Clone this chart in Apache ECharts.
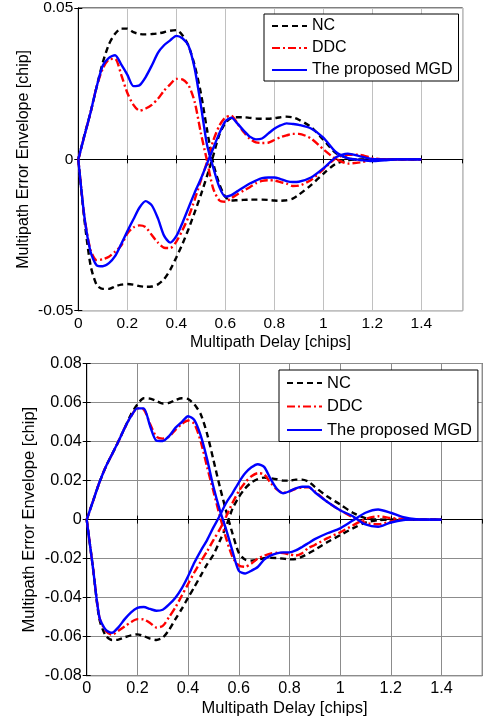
<!DOCTYPE html>
<html><head><meta charset="utf-8">
<script src="https://cdn.jsdelivr.net/npm/echarts@6/dist/echarts.min.js"></script>
<style>html,body{margin:0;padding:0;background:#fff}#c{width:492px;height:722px}</style>
</head><body><div id="c"></div>
<script>
// Multipath delay grid (chips), shared by both panels
const delays = [0,0.025,0.05,0.075,0.1,0.125,0.15,0.175,0.2,0.225,0.25,0.275,0.3,0.325,0.35,0.375,0.4,0.425,0.45,0.475,0.5,0.525,0.55,0.575,0.6,0.625,0.65,0.675,0.7,0.725,0.75,0.775,0.8,0.825,0.85,0.875,0.9,0.95,1.0,1.05,1.1,1.15,1.2,1.25,1.3,1.4];
const seriesNames = ['NC','DDC','The proposed MGD'];
const xTickLabels = ['0','0.2','0.4','0.6','0.8','1','1.2','1.4'];

// ---- Top panel (chip) ----
const topNC_A = [0,0.008,0.0155,0.024,0.032,0.038,0.0415,0.0432,0.0432,0.042,0.0414,0.0413,0.0414,0.0416,0.042,0.0425,0.0427,0.041,0.0375,0.031,0.022,0.010,-0.001,-0.008,-0.0124,-0.0136,-0.0135,-0.0134,-0.0133,-0.0133,-0.0133,-0.0134,-0.0136,-0.0137,-0.0135,-0.013,-0.0117,-0.0085,-0.0048,-0.0015,-0.0003,0,0,0,0,0];
const topNC_B = [0,-0.02,-0.035,-0.0415,-0.0428,-0.0428,-0.042,-0.0414,-0.0412,-0.0414,-0.0419,-0.0421,-0.042,-0.0413,-0.0396,-0.0365,-0.0324,-0.028,-0.023,-0.0175,-0.0118,-0.0056,0.001,0.008,0.012,0.0137,0.0139,0.0139,0.0137,0.0135,0.0134,0.0134,0.0136,0.0139,0.0141,0.0139,0.0131,0.0107,0.0065,0.0022,0.0004,-0.0002,0,0,0,0];
const topDDC_A = [0,0.0078,0.0155,0.024,0.030,0.033,0.0332,0.028,0.022,0.018,0.0161,0.0168,0.018,0.020,0.0227,0.0248,0.0266,0.0264,0.0245,0.019,0.0088,-0.0003,-0.0095,-0.0135,-0.014,-0.0128,-0.0115,-0.0103,-0.0092,-0.0079,-0.0071,-0.0069,-0.007,-0.0075,-0.008,-0.0088,-0.0087,-0.0068,-0.0033,0.0003,0.0015,0.0015,0.0004,0,0,0];
const topDDC_B = [0,-0.019,-0.030,-0.0333,-0.0330,-0.0322,-0.0305,-0.0285,-0.0245,-0.0225,-0.0218,-0.0224,-0.025,-0.0275,-0.0292,-0.0293,-0.0272,-0.0234,-0.019,-0.0133,-0.007,-0.001,0.006,0.011,0.0138,0.0144,0.0118,0.009,0.0068,0.0056,0.0054,0.0055,0.0064,0.0073,0.0079,0.0084,0.0084,0.0069,0.0033,0.0002,-0.0014,-0.001,-0.0002,0,0,0];
const topMGD_A = [0,0.0078,0.0155,0.024,0.031,0.0335,0.0344,0.0314,0.028,0.0242,0.0245,0.0272,0.031,0.0352,0.0377,0.0393,0.0408,0.040,0.0375,0.030,0.018,0.005,-0.0025,-0.009,-0.0123,-0.0118,-0.0105,-0.0092,-0.008,-0.007,-0.0062,-0.006,-0.006,-0.0065,-0.0072,-0.0075,-0.0074,-0.006,-0.003,0.0006,0.0019,0.001,0.0001,0,0,0];
const topMGD_B = [0,-0.019,-0.0305,-0.035,-0.0353,-0.0343,-0.032,-0.028,-0.0238,-0.0198,-0.0159,-0.0138,-0.0152,-0.0195,-0.0252,-0.0275,-0.0254,-0.021,-0.016,-0.011,-0.0065,-0.0015,0.0035,0.0085,0.0125,0.0138,0.0118,0.0095,0.0075,0.0066,0.0069,0.0085,0.0101,0.0112,0.0119,0.0117,0.0114,0.0102,0.0072,0.0025,0.0004,-0.0002,-0.0006,-0.0003,0,0];

// ---- Bottom panel (chip) ----
const botNC_A = [0,0.0095,0.019,0.027,0.0335,0.040,0.047,0.054,0.059,0.0622,0.062,0.0608,0.0595,0.0598,0.0613,0.0622,0.0618,0.059,0.054,0.044,0.0306,0.017,0.0045,-0.007,-0.017,-0.0205,-0.021,-0.0205,-0.0198,-0.0196,-0.0197,-0.02,-0.0204,-0.0202,-0.019,-0.0173,-0.0155,-0.0115,-0.008,-0.0045,-0.0015,-0.0003,0,0,0,0];
const botNC_B = [0,-0.025,-0.051,-0.0595,-0.0617,-0.0615,-0.0603,-0.0593,-0.0588,-0.0597,-0.061,-0.0617,-0.0605,-0.0565,-0.051,-0.0458,-0.040,-0.0345,-0.0287,-0.023,-0.018,-0.011,-0.0035,0.0055,0.0115,0.016,0.019,0.0207,0.0215,0.0212,0.0207,0.02,0.02,0.0205,0.0205,0.0195,0.0168,0.0118,0.0078,0.0035,0.0008,0,0,0,0,0];
const botDDC_A = [0,0.0095,0.019,0.027,0.0335,0.040,0.047,0.053,0.057,0.0565,0.049,0.0425,0.0415,0.0425,0.046,0.049,0.0508,0.049,0.040,0.027,0.0145,0.002,-0.0095,-0.019,-0.0235,-0.0242,-0.0225,-0.020,-0.0185,-0.0174,-0.017,-0.0172,-0.0178,-0.0184,-0.0172,-0.0145,-0.013,-0.0095,-0.0065,-0.003,0.0003,0.0017,0.0008,0.0002,0,0];
const botDDC_B = [0,-0.025,-0.050,-0.057,-0.059,-0.057,-0.0548,-0.0525,-0.051,-0.0512,-0.053,-0.0553,-0.0545,-0.050,-0.045,-0.039,-0.033,-0.027,-0.0215,-0.0163,-0.0105,-0.005,0.0015,0.0085,0.0145,0.019,0.0222,0.0238,0.0232,0.019,0.0155,0.0137,0.0145,0.0158,0.0165,0.0165,0.0145,0.009,0.0048,0.0012,-0.0017,-0.0024,-0.001,0,0,0];
const botMGD_A = [0,0.0095,0.019,0.027,0.0335,0.040,0.047,0.053,0.057,0.057,0.048,0.0405,0.0403,0.0428,0.047,0.050,0.053,0.051,0.043,0.031,0.0168,0.005,-0.005,-0.016,-0.0262,-0.0276,-0.0262,-0.0243,-0.0205,-0.0185,-0.0173,-0.0168,-0.0168,-0.0158,-0.014,-0.012,-0.010,-0.007,-0.0045,-0.0005,0.0035,0.0052,0.0035,0.0012,0.0002,0];
const botMGD_B = [0,-0.025,-0.050,-0.0565,-0.058,-0.0552,-0.051,-0.0475,-0.0452,-0.0448,-0.0458,-0.0467,-0.0462,-0.0435,-0.040,-0.0352,-0.029,-0.022,-0.016,-0.0105,-0.004,0.002,0.0085,0.0135,0.019,0.0237,0.0268,0.0284,0.027,0.021,0.0158,0.0135,0.0145,0.016,0.0168,0.0168,0.014,0.009,0.0048,0.0017,-0.0025,-0.0037,-0.0015,-0.0002,0,0];

const FONT = 'Liberation Sans, Arial, sans-serif';
const styles = {
  'NC': {color:'#000000', type:[6,4]},
  'DDC': {color:'#ff0000', type:[8,3,2,3]},
  'The proposed MGD': {color:'#0000ff', type:'solid'}
};
function mk(name, gi, ys){
  const s = styles[name];
  return {
    type:'line', name, xAxisIndex: gi*2, yAxisIndex: gi*2,
    data: delays.map((x,i)=>[x, ys[i]]),
    symbol:'none', showSymbol:false, smooth:0.25, animation:false,
    itemStyle:{color:s.color},
    lineStyle:{color:s.color, width:2.4, type:s.type}
  };
}
const fmtY = v => String(+v.toFixed(2));

function axesFor(gi, xmax, ymin, ymax, yint, gridColor, showYGrid, tick, name, yGap){
  const lab = {color:'#000', fontFamily:FONT, fontSize:tick};
  const nm = {color:'#000', fontFamily:FONT, fontSize:name};
  const line = {show:true, lineStyle:{color:'#000', width:1}};
  const tk = {show:true, inside:true, length:4, lineStyle:{color:'#000'}};
  const x = [
    {type:'value', gridIndex:gi, position:'bottom', min:0, max:xmax, interval:0.2,
     axisLine:line, axisTick:tk,
     axisLabel:Object.assign({margin:5, showMaxLabel:false, formatter:(v)=>{const s=String(+v.toFixed(1)); return xTickLabels.includes(s)?s:'';}}, lab),
     splitLine:{show:true, lineStyle:{color:gridColor, width:1}},
     name:'Multipath Delay [chips]', nameLocation:'middle', nameGap: 24, nameMoveOverlap:false, nameTextStyle:nm},
    {type:'value', gridIndex:gi, position:'top', min:0, max:xmax, interval:0.2,
     axisLine:line, axisTick:tk, axisLabel:{show:false}, splitLine:{show:false}}
  ];
  const y = [
    {type:'value', gridIndex:gi, position:'left', min:ymin, max:ymax, interval:yint,
     axisLine:line, axisTick:tk,
     axisLabel:Object.assign({margin:5, formatter:fmtY}, lab),
     splitLine:{show:showYGrid, lineStyle:{color:gridColor, width:1}},
     name:'Multipath Error Envelope [chip]', nameLocation:'middle', nameGap: yGap, nameMoveOverlap:false, nameTextStyle:nm},
    {type:'value', gridIndex:gi, position:'right', min:ymin, max:ymax, interval:yint,
     axisLine:line, axisTick:tk, axisLabel:{show:false}, splitLine:{show:false}}
  ];
  return {x, y};
}

const a0 = axesFor(0, 1.569, -0.05, 0.05, 0.05, '#c0c0c0', true, 15.5, 16, 47);
const a1 = axesFor(1, 1.561, -0.08, 0.08, 0.02, '#8c8c8c', true, 16.2, 16.5, 48.5);

const series = [
  mk('NC',0,topNC_A), mk('NC',0,topNC_B),
  mk('DDC',0,topDDC_A), mk('DDC',0,topDDC_B),
  mk('The proposed MGD',0,topMGD_A), mk('The proposed MGD',0,topMGD_B),
  mk('NC',1,botNC_A), mk('NC',1,botNC_B),
  mk('DDC',1,botDDC_A), mk('DDC',1,botDDC_B),
  mk('The proposed MGD',1,botMGD_A), mk('The proposed MGD',1,botMGD_B)
];

function legendAt(left, top, fs, gap, pad){
  return {
    data: seriesNames, orient:'vertical', left, top,
    backgroundColor:'#fff', borderColor:'#000', borderWidth:1, borderRadius:0,
    padding: pad, itemGap: gap, itemWidth:35, itemHeight:14, itemTextGap:4,
    itemStyle:{color:'rgba(0,0,0,0)', borderWidth:0, opacity:0},
    textStyle:{color:'#000', fontFamily:FONT, fontSize:fs},
    selectedMode:false
  };
}

const chart = echarts.init(document.getElementById('c'), null, {renderer:'canvas'});
chart.setOption({
  animation:false,
  backgroundColor:'#fff',
  grid:[
    {left:78.3, top:7.3, width:384.4, height:303.4, show:true, borderColor:'#000', borderWidth:1, backgroundColor:'transparent'},
    {left:86.7, top:363.5, width:395.6, height:312.2, show:true, borderColor:'#000', borderWidth:1, backgroundColor:'transparent'}
  ],
  xAxis: a0.x.concat(a1.x),
  yAxis: a0.y.concat(a1.y),
  legend:[
    legendAt(264, 14, 16, 6, [4,6,3,7]),
    legendAt(279, 370, 16.5, 6.5, [4.5,6,3,7])
  ],
  series
});
</script>
</body></html>
